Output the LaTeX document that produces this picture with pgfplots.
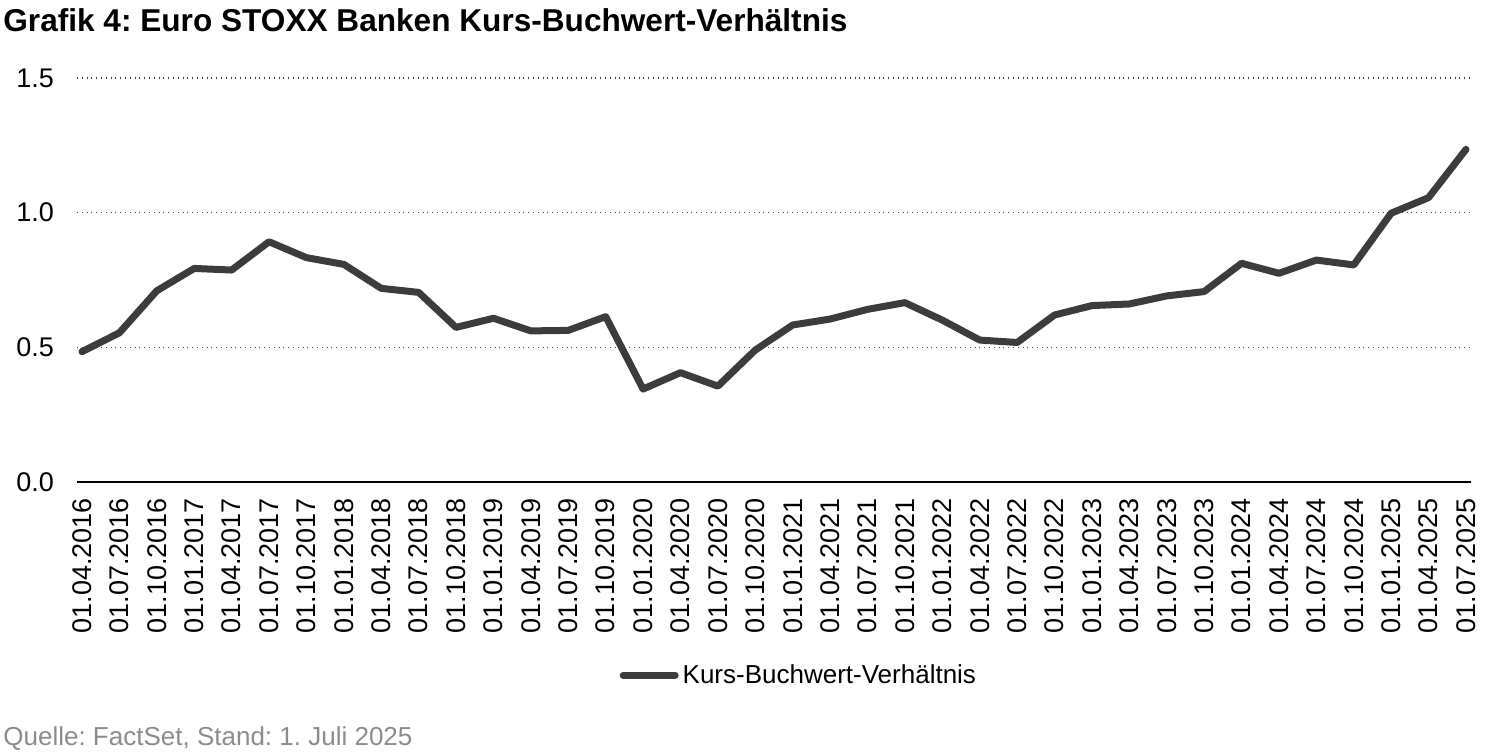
\documentclass[border=0pt]{standalone}
\usepackage{fontspec}
\setmainfont{Liberation Sans}
\usepackage{pgfplots}
\pgfplotsset{compat=1.18}
\definecolor{kbvline}{HTML}{3C3C3C}
\definecolor{srcgray}{HTML}{8C8C8C}
\frenchspacing
\begin{document}
\begin{tikzpicture}
\useasboundingbox (-38.5pt,-134.5pt) rectangle (711.5pt,241pt);
\begin{axis}[
  at={(0,0)}, anchor=south west,
  scale only axis,
  width=697pt, height=202pt,
  xmin=-0.134, xmax=37.134,
  ymin=0, ymax=1.5,
  axis x line*=bottom, axis y line*=left,
  x axis line style={black, line width=0.75pt},
  y axis line style={draw=none},
  xtick=data,
  xticklabels={01.04.2016,01.07.2016,01.10.2016,01.01.2017,01.04.2017,01.07.2017,01.10.2017,01.01.2018,01.04.2018,01.07.2018,01.10.2018,01.01.2019,01.04.2019,01.07.2019,01.10.2019,01.01.2020,01.04.2020,01.07.2020,01.10.2020,01.01.2021,01.04.2021,01.07.2021,01.10.2021,01.01.2022,01.04.2022,01.07.2022,01.10.2022,01.01.2023,01.04.2023,01.07.2023,01.10.2023,01.01.2024,01.04.2024,01.07.2024,01.10.2024,01.01.2025,01.04.2025,01.07.2025},
  ytick={0,0.5,1,1.5},
  major tick length=0pt,
  ymajorgrids,
  grid style={black!75, dotted, line width=0.7pt},
  tick label style={font=\fontsize{13.5}{16}\selectfont},
  xticklabel style={rotate=90, anchor=east, xshift=-4.5pt},
  yticklabel style={anchor=east, xshift=-8pt},
  /pgf/number format/.cd, fixed, fixed zerofill, precision=1, assume math mode=true,
  /pgfplots/.cd,
  legend style={at={(0.389,-0.478)}, anchor=west, draw=none, inner sep=0pt,
    font=\fontsize{13}{15}\selectfont, cells={anchor=west}},
  legend image code/.code={\draw[#1, line cap=round] (0pt,0pt) -- (26pt,0pt);},
]
\addplot[kbvline, line width=3.5pt, line join=round, line cap=round] coordinates {
  (0,0.484) (1,0.554) (2,0.710) (3,0.793) (4,0.787) (5,0.892) (6,0.833) (7,0.808)
  (8,0.719) (9,0.704) (10,0.574) (11,0.608) (12,0.561) (13,0.563) (14,0.614)
  (15,0.345) (16,0.406) (17,0.356) (18,0.490) (19,0.583) (20,0.605) (21,0.641)
  (22,0.666) (23,0.601) (24,0.527) (25,0.518) (26,0.620) (27,0.655) (28,0.661)
  (29,0.691) (30,0.707) (31,0.812) (32,0.775) (33,0.824) (34,0.806) (35,0.998)
  (36,1.056) (37,1.235)
};
\addlegendentry{Kurs-Buchwert-Verhältnis}
\end{axis}
\node[anchor=base west, inner sep=0pt, font=\bfseries\fontsize{15.8}{19}\selectfont] at (-37pt,225.5pt) {Grafik 4: Euro STOXX Banken Kurs-Buchwert-Verhältnis};
\node[anchor=base west, inner sep=0pt, text=srcgray, font=\fontsize{13}{15}\selectfont] at (-37pt,-131.5pt) {Quelle: FactSet, Stand: 1. Juli 2025};
\end{tikzpicture}
\end{document}
